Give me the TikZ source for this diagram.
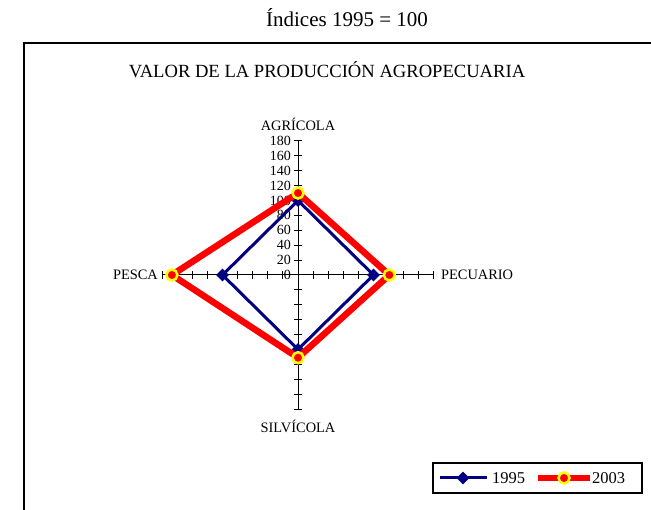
\documentclass[tikz,border=0pt]{standalone}
\usepackage{fontspec}
\setmainfont{Liberation Serif}
\usetikzlibrary{shapes.geometric}
\definecolor{navy95}{RGB}{0,0,128}
\definecolor{red03}{RGB}{255,0,0}
\definecolor{yellow03}{RGB}{255,255,0}

\begin{document}
\begin{tikzpicture}[x=1pt, y=1pt,
		axislbl/.style={font=\fontsize{14.4}{16}\selectfont, inner sep=1pt},
		ticklbl/.style={font=\fontsize{14}{15}\selectfont, anchor=east, inner sep=0pt},
		keylbl/.style={font=\fontsize{16.5}{18}\selectfont, anchor=west, inner sep=1pt},
		line95/.style={draw=navy95, line width=3pt},
		line03/.style={draw=red03, line width=6.5pt},
		mark95/.style={diamond, fill=navy95, minimum size=13pt, inner sep=0pt},
		mark03/.style={circle, fill=red03, draw=yellow03, line width=2.5pt, minimum size=11pt, inner sep=0pt}]
	\useasboundingbox (0,0) rectangle (651,510);
	\clip (0,0) rectangle (651,510);
	\node[font=\fontsize{21}{24}\selectfont] (title) at (347,492) {Índices 1995 = 100};
	\draw[line width=1.5pt] (24,-5) -- (24,467) -- (660,467);
	\node[font=\fontsize{18.6}{20}\selectfont] (subtitle) at (327,440) {VALOR DE LA PRODUCCIÓN AGROPECUARIA};
	\begin{scope}[shift={(298,235)}, x=0.755pt, y=0.745pt]
	    \coordinate (agr) at (0,180);
	    \coordinate (pec) at (180,0);
	    \coordinate (sil) at (0,-180);
	    \coordinate (pes) at (-180,0);
	    \draw[line width=1pt] (pes) -- (pec);
	    \draw[line width=1pt] (sil) -- (agr);
	    \foreach \v in {-180,-160,...,180} {
	       \draw[line width=1pt] ([xshift=-4pt]0,\v) -- ([xshift=4pt]0,\v);
	       \draw[line width=1pt] ([yshift=-4pt]\v,0) -- ([yshift=4pt]\v,0);
	       }
	    \foreach \v in {0,20,...,180} {
	       \node[ticklbl] (t\v) at ([xshift=-7pt]0,\v) {\v};
	       }
	    \node[axislbl, above=9pt] (lagr) at (agr) {AGRÍCOLA};
	    \node[axislbl, right=6pt] (lpec) at (pec) {PECUARIO};
	    \node[axislbl, below=10pt] (lsil) at (sil) {SILVÍCOLA};
	    \node[axislbl, left=3pt] (lpes) at (pes) {PESCA};
	    % 1995
	    \coordinate (agr95) at (0,100);
	    \coordinate (pec95) at (100,0);
	    \coordinate (sil95) at (0,-100);
	    \coordinate (pes95) at (-100,0);
	    \draw[line95] (agr95) -- (pec95) -- (sil95) -- (pes95) -- cycle;
	    \foreach \p in {agr95,pec95,sil95,pes95} {
	       \node[mark95] (m\p) at (\p) {};
	       }
	    % 2003
	    \coordinate (agr03) at (0,110);
	    \coordinate (pec03) at (121,0);
	    \coordinate (sil03) at (0,-111);
	    \coordinate (pes03) at (-167,0);
	    \draw[line03] (agr03) -- (pec03) -- (sil03) -- (pes03) -- cycle;
	    \foreach \p in {agr03,pec03,sil03,pes03} {
	       \node[mark03] (m\p) at (\p) {};
	       }
	\end{scope}
	% legend
	\node[draw, line width=1.2pt, minimum width=209pt, minimum height=30pt] (key) at (537.5,32) {};
	\coordinate (k95a) at (440,32);
	\coordinate (k95b) at (487,32);
	\draw[line95] (k95a) -- (k95b);
	\node[mark95] (k95) at (463,32) {};
	\node[keylbl] (k95t) at (491,32) {1995};
	\coordinate (k03a) at (538,32);
	\coordinate (k03b) at (590,32);
	\draw[line03] (k03a) -- (k03b);
	\node[mark03] (k03) at (564,32) {};
	\node[keylbl] (k03t) at (591,32) {2003};
\end{tikzpicture}
\end{document}
